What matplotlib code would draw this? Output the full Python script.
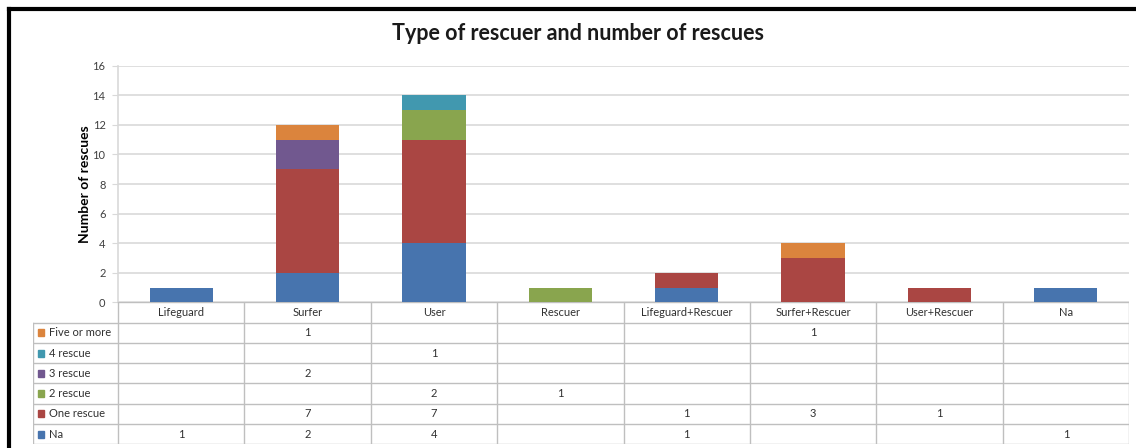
import numpy as np
import matplotlib
matplotlib.use('Agg')
import matplotlib.pyplot as plt
from matplotlib.lines import Line2D
from matplotlib.patches import Rectangle

plt.rcParams['font.family'] = ['Lato', 'DejaVu Sans']

rescuers = ['Lifeguard', 'Surfer', 'User', 'Rescuer', 'Lifeguard+Rescuer',
            'Surfer+Rescuer', 'User+Rescuer', 'Na']

# counts per rescuer type, None = empty cell
na = [1, 2, 4, None, 1, None, None, 1]
one_rescue = [None, 7, 7, None, 1, 3, 1, None]
two_rescue = [None, None, 2, 1, None, None, None, None]
three_rescue = [None, 2, None, None, None, None, None, None]
four_rescue = [None, None, 1, None, None, None, None, None]
five_or_more = [None, 1, None, None, None, 1, None, None]

series_names = ['Na', 'One rescue', '2 rescue', '3 rescue', '4 rescue', 'Five or more']
series_vals = [na, one_rescue, two_rescue, three_rescue, four_rescue, five_or_more]
colors = ['#4774AE', '#AA4643', '#89A54E', '#71588F', '#4198AF', '#DB843D']

W, H = 1136, 448
fig = plt.figure(figsize=(W / 100, H / 100), dpi=100)

# pixel geometry
x0, x1 = 118, 1129
y_top, y_base = 65.7, 302.3
row_h = 20.3
lbl_left = 33
grid_c = '#D9D9D9'
tbl_c = '#BFBFBF'

ax = fig.add_axes([x0 / W, 1 - y_base / H, (x1 - x0) / W, (y_base - y_top) / H])
n = len(rescuers)
xs = np.arange(n)
bottom = np.zeros(n)
for name, vals, c in zip(series_names, series_vals, colors):
    v = np.array([0 if a is None else a for a in vals], dtype=float)
    ax.bar(xs, v, 0.5, bottom=bottom, color=c, zorder=3)
    bottom += v

ax.set_xlim(-0.5, n - 0.5)
ax.set_ylim(0, 16)
ax.set_yticks(range(0, 17, 2))
ax.yaxis.grid(True, color=grid_c, lw=1.2)
ax.set_axisbelow(True)
for s in ['top', 'right', 'bottom']:
    ax.spines[s].set_visible(False)
ax.spines['left'].set_color(grid_c)
ax.spines['left'].set_linewidth(1.2)
ax.set_xticks([])
ax.tick_params(axis='y', length=4, color=grid_c, labelsize=8, labelcolor='#404040', pad=5)
ax.set_ylabel('Number of rescues', fontsize=10, fontweight='bold', labelpad=1)

# data table under the bars
n_rows = len(series_names) + 1
tax = fig.add_axes([lbl_left / W, 1 - (y_base + n_rows * row_h) / H,
                    (x1 - lbl_left) / W, n_rows * row_h / H])
cw = (x1 - x0) / n
lbl_w = (x0 - lbl_left) / cw
tax.set_xlim(-0.5 - lbl_w, n - 0.5)
tax.set_ylim(n_rows, 0)
tax.axis('off')

# horizontal lines
tax.plot([-0.5, n - 0.5], [0, 0], color=tbl_c, lw=1)
for r in range(1, n_rows + 1):
    tax.plot([-0.5 - lbl_w, n - 0.5], [r, r], color=tbl_c, lw=1)
# vertical lines
tax.plot([-0.5 - lbl_w] * 2, [1, n_rows], color=tbl_c, lw=1)
for i in range(n + 1):
    tax.plot([i - 0.5] * 2, [0, n_rows], color=tbl_c, lw=1)

for i, name in enumerate(rescuers):
    tax.text(i, 0.5, name, ha='center', va='center', fontsize=8, color='#303030')

for r, (name, vals, c) in enumerate(zip(series_names[::-1], series_vals[::-1], colors[::-1])):
    yc = r + 1.5
    tax.add_patch(Rectangle((-0.5 - lbl_w + 0.037, yc - 0.17), 0.05, 0.34,
                            color=c, transform=tax.transData, clip_on=False))
    tax.text(-0.5 - lbl_w + 0.13, yc, name, ha='left', va='center', fontsize=8, color='#303030')
    for i, v in enumerate(vals):
        if v is not None:
            tax.text(i, yc, str(v), ha='center', va='center', fontsize=8, color='#303030')

fig.text(578 / W, 1 - 33 / H, 'Type of rescuer and number of rescues',
         ha='center', va='center', fontsize=15.5, fontweight='bold', color='#1a1a1a')

# frame on top and left edges
fig.add_artist(Line2D([9 / W, 1], [1 - 9 / H] * 2, color='black', lw=3, transform=fig.transFigure))
fig.add_artist(Line2D([9 / W] * 2, [0, 1 - 9 / H], color='black', lw=3, transform=fig.transFigure))

fig.savefig('out.png', dpi=100, facecolor='white')
